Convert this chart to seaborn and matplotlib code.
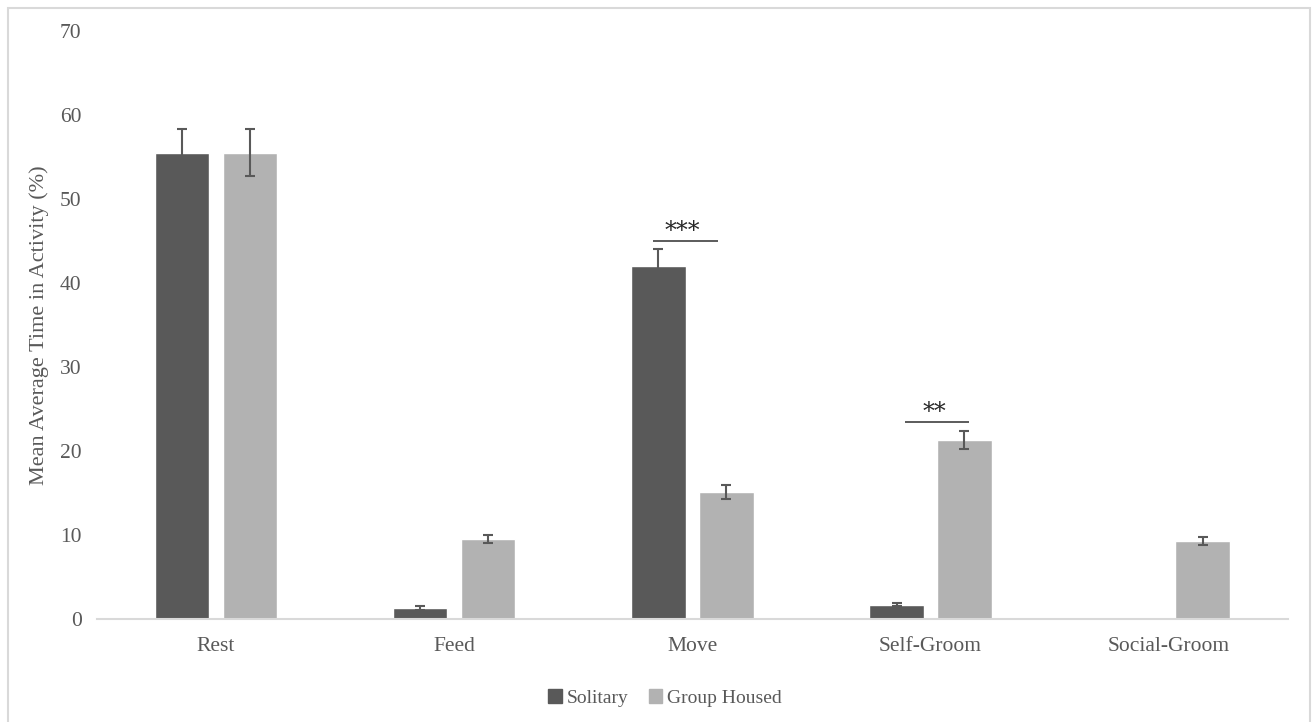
import numpy as np
import pandas as pd
import matplotlib
matplotlib.use("Agg")
import matplotlib.pyplot as plt
import seaborn as sns
from matplotlib.patches import Rectangle

# Activity budget data: mean % of time and error per housing condition
activities = ["Rest", "Feed", "Move", "Self-Groom", "Social-Groom"]
solitary_mean = [55.5, 1.3, 42.0, 1.7, 0.0]
solitary_err = [2.8, 0.2, 2.1, 0.2, np.nan]
group_mean = [55.5, 9.5, 15.1, 21.3, 9.3]
group_err = [2.8, 0.5, 0.8, 1.05, 0.5]
conditions = ["Solitary", "Group Housed"]

# Significance brackets: (activity index, left offset, right offset, height, stars)
sig_activity = [2, 3]
sig_left = [-0.166, -0.108]
sig_right = [0.107, 0.162]
sig_height = [45.0, 23.4]
sig_stars = ["***", "**"]

sns.set_theme(style="white")
plt.rcParams["font.family"] = ["Liberation Serif", "DejaVu Serif"]

dark = "#595959"
light = "#b2b2b2"
text_col = "#595959"

df = pd.DataFrame({
    "Activity": activities * 2,
    "Condition": [conditions[0]] * len(activities) + [conditions[1]] * len(activities),
    "Mean": solitary_mean + group_mean,
    "Err": solitary_err + group_err,
})

fig = plt.figure(figsize=(13.14, 7.22), dpi=100)
ax = fig.add_axes([0.0738, 0.1427, 0.9062, 0.8143])

sns.barplot(data=df, x="Activity", y="Mean", hue="Condition", order=activities,
            hue_order=conditions, palette=[dark, light], errorbar=None,
            width=0.571, gap=0.2, saturation=1, legend=False, ax=ax)

# Error bars placed on each bar's centre
for cont, cond in zip(ax.containers, conditions):
    errs = df[df["Condition"] == cond]["Err"].to_numpy()
    for bar, e in zip(cont, errs):
        if np.isnan(e):
            continue
        xc = bar.get_x() + bar.get_width() / 2
        ax.errorbar(xc, bar.get_height(), yerr=e, fmt="none", ecolor="#595959",
                    elinewidth=1.5, capsize=3.3, capthick=1.5, zorder=4)

# Significance markers
for idx, lo, hi, h, s in zip(sig_activity, sig_left, sig_right, sig_height, sig_stars):
    ax.plot([idx + lo, idx + hi], [h, h], color="#404040", lw=1.2, solid_capstyle="butt")
    ax.text(idx + (lo + hi) / 2 - 0.012, h - 0.2, s, ha="center", va="bottom",
            fontsize=17, color="#262626", family=["DejaVu Serif"])

ax.set_xlim(-0.5, 4.5)
ax.set_ylim(0, 70)
ax.set_yticks(range(0, 71, 10))
ax.set_xlabel("")
ax.set_ylabel("Mean Average Time in Activity (%)", fontsize=16, color=text_col, labelpad=8)
ax.tick_params(axis="both", length=0, labelsize=15.5, colors=text_col)
ax.tick_params(axis="x", pad=13)
ax.tick_params(axis="y", pad=11)
for side in ["top", "right", "left"]:
    ax.spines[side].set_visible(False)
ax.spines["bottom"].set_color("#d9d9d9")
ax.spines["bottom"].set_linewidth(1.5)
ax.grid(False)

# Legend below the plot
handles = [Rectangle((0, 0), 1, 1, color=dark), Rectangle((0, 0), 1, 1, color=light)]
leg = fig.legend(handles, conditions, loc="center", bbox_to_anchor=(0.506, 1 - 698 / 722),
                 ncol=2, frameon=False, fontsize=14, handlelength=0.7, handleheight=0.7,
                 handletextpad=0.25, columnspacing=1.05)
for t in leg.get_texts():
    t.set_color(text_col)

# Chart-area border
fig.patches.append(Rectangle((8 / 1314, -0.01), 1302 / 1314, 1 - 8 / 722 + 0.01,
                             transform=fig.transFigure, fill=False,
                             edgecolor="#d9d9d9", lw=1.5, zorder=0))

fig.savefig("out.png", dpi=100)
